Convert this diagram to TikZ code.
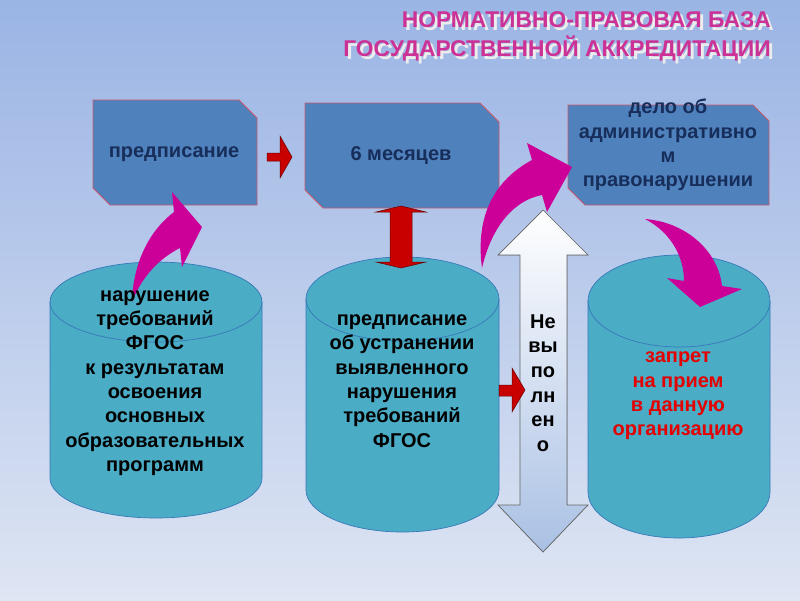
\documentclass[tikz,border=0pt]{standalone}
\usepackage{fontspec}
\setmainfont{Liberation Sans}
\definecolor{bgtop}{RGB}{154,180,228}
\definecolor{bgbot}{RGB}{222,229,243}
\definecolor{boxfill}{RGB}{79,129,189}
\definecolor{boxline}{RGB}{200,90,110}
\definecolor{navy}{RGB}{23,45,90}
\definecolor{cylfill}{RGB}{75,172,198}
\definecolor{cylline}{RGB}{55,120,185}
\definecolor{pinkarrow}{RGB}{204,0,153}
\definecolor{titlecol}{RGB}{204,50,150}
\definecolor{redarrow}{RGB}{200,0,0}
\definecolor{dbltop}{RGB}{255,255,255}
\definecolor{dblbot}{RGB}{170,193,228}
\tikzset{
  snipbox/.style={fill=boxfill, draw=boxline, line width=0.8pt},
  cylbody/.style={fill=cylfill, draw=cylline, line width=0.7pt},
  cylrim/.style={draw=cylline, line width=0.7pt},
  pinkshape/.style={fill=pinkarrow},
  redshape/.style={fill=redarrow, draw=red!40!black, line width=0.5pt},
  boxtext/.style={font=\bfseries\fontsize{20}{24.3}\selectfont, text=navy, align=center, inner sep=0pt},
  cyltext/.style={font=\bfseries\fontsize{20}{24.3}\selectfont, text=black, align=center, inner sep=0pt},
  titletext/.style={font=\bfseries\fontsize{22.8}{29}\selectfont, align=right, inner sep=0pt, anchor=north east}
}
\newcommand\mycyl[5]{%
  \pgfmathsetmacro\cylA{#1}\pgfmathsetmacro\cylB{#2}%
  \pgfmathsetmacro\cylC{(#1+#2)/2}\pgfmathsetmacro\cylR{(#2-#1)/2}%
  \pgfmathsetmacro\cylT{#3+#5}\pgfmathsetmacro\cylD{#4-#5}%
  \pgfmathsetmacro\cylK{0.5523*#5}\pgfmathsetmacro\cylKx{0.5523*\cylR}%
  \filldraw[cylbody] (\cylA,\cylT) -- (\cylA,\cylD)
    .. controls (\cylA,\cylD+\cylK) and (\cylC-\cylKx,#4) .. (\cylC,#4)
    .. controls (\cylC+\cylKx,#4) and (\cylB,\cylD+\cylK) .. (\cylB,\cylD)
    -- (\cylB,\cylT)
    .. controls (\cylB,\cylT-\cylK) and (\cylC+\cylKx,#3) .. (\cylC,#3)
    .. controls (\cylC-\cylKx,#3) and (\cylA,\cylT-\cylK) .. (\cylA,\cylT) -- cycle;
  \draw[cylrim] (\cylA,\cylT)
    .. controls (\cylA,\cylT+\cylK) and (\cylC-\cylKx,#3+2*#5) .. (\cylC,#3+2*#5)
    .. controls (\cylC+\cylKx,#3+2*#5) and (\cylB,\cylT+\cylK) .. (\cylB,\cylT);
}
\begin{document}
\begin{tikzpicture}[x=1pt,y=-1pt]
% background
\fill[top color=bgtop, bottom color=bgbot] (0,0) rectangle (800,600);
\useasboundingbox (0,0) rectangle (800,600);

% title with shadow
\node[titletext, text=white!85!gray] at (774,14) {НОРМАТИВНО-ПРАВОВАЯ БАЗА\\ГОСУДАРСТВЕННОЙ АККРЕДИТАЦИИ};
\node[titletext, text=titlecol] (title) at (771,11) {НОРМАТИВНО-ПРАВОВАЯ БАЗА\\ГОСУДАРСТВЕННОЙ АККРЕДИТАЦИИ};

% snip boxes
\filldraw[snipbox] (93,100) -- (239,100) -- (257,118) -- (257,205) -- (110,205) -- (93,188) -- cycle;
\filldraw[snipbox] (305,103) -- (480,103) -- (499,122) -- (499,208) -- (323,208) -- (305,190) -- cycle;
\filldraw[snipbox] (568,105) -- (753,105) -- (769,121) -- (769,205) -- (585,205) -- (568,188) -- cycle;

% cylinders
\mycyl{50}{262}{262}{518}{40}
\mycyl{306}{499}{257}{532}{42}
\mycyl{588}{770}{255}{538}{46}

% pink curved arrows
\fill[pinkshape] (132,302) .. controls (133,262) and (150,230) .. (174,212) -- (172,192) -- (202,227) -- (182,267) -- (180,248) .. controls (160,258) and (142,276) .. (132,302) -- cycle;
\fill[pinkshape] (482,268) .. controls (475,215) and (495,180) .. (532,160) -- (527,143) -- (572,167) -- (547,212) -- (542,195) .. controls (515,200) and (492,225) .. (482,268) -- cycle;
\fill[pinkshape] (645,219) .. controls (685,222) and (718,250) .. (722,286) -- (742,289) -- (700,307) -- (667,278) -- (684,281) .. controls (684,258) and (672,233) .. (645,219) -- cycle;

% double arrow
\filldraw[top color=dbltop, bottom color=dblbot, draw=gray!80!black, line width=0.7pt]
  (543,210) -- (588,255) -- (567,255) -- (567,505) -- (588,505) -- (543,552) -- (498,505) -- (520,505) -- (520,255) -- (498,255) -- cycle;

% red arrows
\filldraw[redshape] (267,153) -- (280,153) -- (280,136) -- (292,157) -- (280,178) -- (280,161) -- (267,161) -- cycle;
\filldraw[redshape] (499,385) -- (512,385) -- (512,368) -- (525,390) -- (512,412) -- (512,396) -- (499,396) -- cycle;
\filldraw[redshape] (401,206) -- (426,212) -- (412,212) -- (412,262) -- (426,262) -- (401,268) -- (376,262) -- (390,262) -- (390,212) -- (376,212) -- cycle;

% texts
\node[boxtext] (b1) at (174,154) {предписание};
\node[boxtext] (b2) at (401,156) {6 месяцев};
\node[boxtext] (b3) at (668,145) {дело об\\административно\\м\\правонарушении};
\node[cyltext] (c1) at (155,383) {нарушение\\требований\\ФГОС\\к результатам\\освоения\\основных\\образовательных\\программ};
\node[cyltext] (c2) at (402,381) {предписание\\об устранении\\выявленного\\нарушения\\требований\\ФГОС};
\node[cyltext, text=red!90!black] (c3) at (678,396) {запрет\\на прием\\в данную\\организацию};
\node[cyltext, font=\bfseries\fontsize{20}{24.6}\selectfont] (nv) at (543,383) {Не\\вы\\по\\лн\\ен\\о};
\end{tikzpicture}
\end{document}
